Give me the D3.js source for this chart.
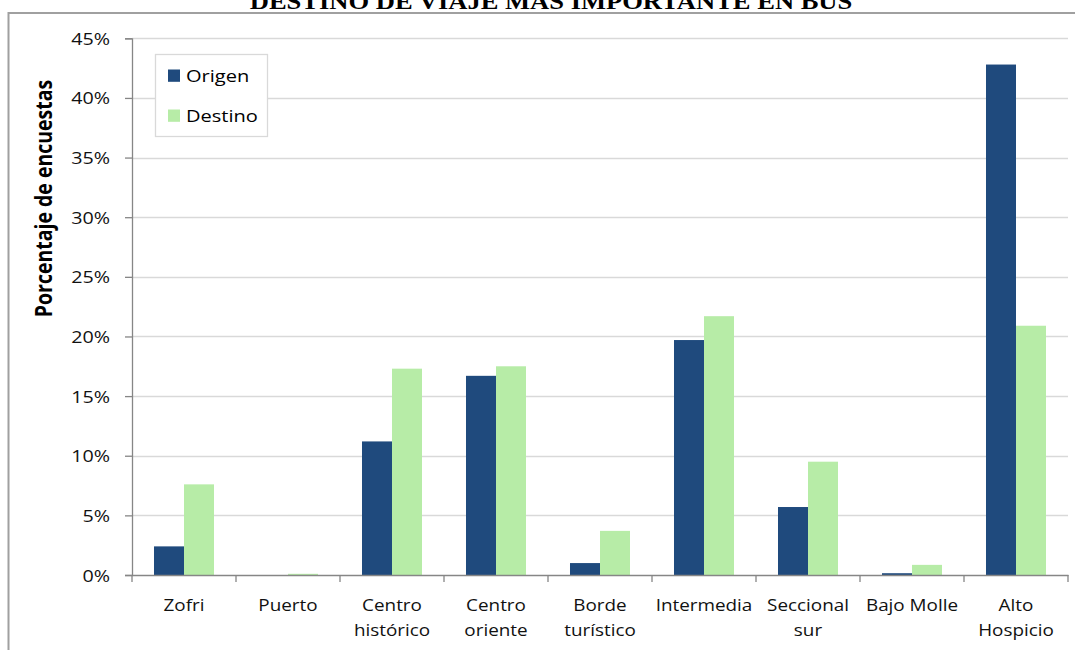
<!DOCTYPE html>
<html>
<head>
<meta charset="utf-8">
<script src="https://cdn.jsdelivr.net/npm/d3@7"></script>
<style>
  html, body { margin: 0; padding: 0; background: #fff; overflow: hidden; }
  svg { display: block; }
</style>
</head>
<body>
<svg id="chart" width="1075" height="650"></svg>
<script>
const title = "DESTINO DE VIAJE MÁS IMPORTANTE EN BUS";
const categories = ["Zofri", "Puerto", "Centro histórico", "Centro oriente", "Borde turístico", "Intermedia", "Seccional sur", "Bajo Molle", "Alto Hospicio"];
const categoryLines = [["Zofri"], ["Puerto"], ["Centro", "histórico"], ["Centro", "oriente"], ["Borde", "turístico"], ["Intermedia"], ["Seccional", "sur"], ["Bajo Molle"], ["Alto", "Hospicio"]];
const seriesNames = ["Origen", "Destino"];
const origen = [2.4, 0, 11.2, 16.7, 1.0, 19.7, 5.7, 0.15, 42.8];
const destino = [7.6, 0.1, 17.3, 17.5, 3.7, 21.7, 9.5, 0.85, 20.9];
const yTicks = [0, 5, 10, 15, 20, 25, 30, 35, 40, 45];
const yTickLabels = ["0%", "5%", "10%", "15%", "20%", "25%", "30%", "35%", "40%", "45%"];
const yTitle = "Porcentaje de encuestas";
const colors = ["#1f4a7d", "#b7eca7"];

const SX = 1.18; // horizontal stretch of the original picture
const svg = d3.select("#chart");
const plot = { left: 132, right: 1068, top: 38.3, bottom: 575 };

const x0 = d3.scaleBand().domain(categories).range([plot.left, plot.right]).padding(0);
const x1 = d3.scaleBand().domain(seriesNames).range([0, x0.bandwidth()]).paddingInner(0).paddingOuter(0.733);
const y = d3.scaleLinear().domain([0, 45]).range([plot.bottom, plot.top]);

function stext(g, x, yy, txt) {
  return g.append("text").attr("transform", `translate(${x},${yy}) scale(${SX},1)`).text(txt);
}

// outer border
svg.append("rect").attr("x", 8.5).attr("y", 13).attr("width", 1200).attr("height", 800)
  .attr("fill", "none").attr("stroke", "#a0a0a0").attr("stroke-width", 2);

// title
stext(svg, 551, 9, title)
  .attr("text-anchor", "middle")
  .attr("font-family", "'Liberation Serif', 'Times New Roman', serif")
  .attr("font-weight", "bold").attr("font-size", 22.5).attr("fill", "#000");

// gridlines
svg.append("g").selectAll("line").data(yTicks.filter(d => d > 0)).join("line")
  .attr("x1", plot.left).attr("x2", plot.right)
  .attr("y1", d => Math.round(y(d)) + 0.5).attr("y2", d => Math.round(y(d)) + 0.5)
  .attr("stroke", "#d9d9d9").attr("stroke-width", 1.3);

// bars
const data = categories.map((c, i) => ({ cat: c, vals: [origen[i], destino[i]] }));
const groups = svg.append("g").selectAll("g").data(data).join("g")
  .attr("transform", d => `translate(${x0(d.cat)},0)`);
groups.selectAll("rect").data(d => d.vals.map((v, j) => ({ key: seriesNames[j], v, j }))).join("rect")
  .attr("x", d => x1(d.key))
  .attr("width", x1.bandwidth())
  .attr("y", d => y(d.v))
  .attr("height", d => y(0) - y(d.v))
  .attr("fill", d => colors[d.j]);

// y axis
const yAxis = d3.axisLeft(y).tickValues(yTicks).tickSize(7).tickFormat((d, i) => yTickLabels[i]);
const gy = svg.append("g").attr("transform", `translate(${plot.left},0)`).call(yAxis);
gy.select(".domain").attr("stroke", "#868686").attr("stroke-width", 1.3);
gy.selectAll(".tick line").attr("stroke", "#868686").attr("stroke-width", 1.3);
gy.selectAll(".tick text").each(function () {
  const t = d3.select(this);
  t.attr("x", null).attr("transform", `translate(-22,0) scale(${SX},1)`)
    .attr("font-family", "'Open Sans', sans-serif").attr("font-size", 16.7).attr("fill", "#111")
    .attr("dy", "0.36em");
});

// x axis
const xAxis = d3.axisBottom(x0).tickSize(0).tickFormat("");
const gx = svg.append("g").attr("transform", `translate(0,${plot.bottom})`).call(xAxis);
gx.select(".domain").attr("stroke", "#868686").attr("stroke-width", 1.3);
gx.selectAll(".tick").remove();
const bounds = categories.map(c => x0(c)).concat([plot.right]);
gx.selectAll("line.bt").data(bounds).join("line").attr("class", "bt")
  .attr("x1", d => d).attr("x2", d => d).attr("y1", 0).attr("y2", 7)
  .attr("stroke", "#868686").attr("stroke-width", 1.3);

// category labels
const lab = svg.append("g").attr("font-family", "'Open Sans', sans-serif").attr("font-size", 16)
  .attr("fill", "#111").attr("text-anchor", "middle");
categories.forEach((c, i) => {
  const cx = x0(c) + x0.bandwidth() / 2;
  categoryLines[i].forEach((line, k) => {
    stext(lab, cx, 611 + k * 25, line);
  });
});

// y title
svg.append("text")
  .attr("transform", `translate(52,198.5) scale(${SX},1) rotate(-90)`)
  .attr("text-anchor", "middle")
  .attr("font-family", "'Open Sans', sans-serif").attr("font-weight", "bold").attr("font-size", 19.5)
  .attr("fill", "#000").text(yTitle);

// legend
const lg = svg.append("g");
lg.append("rect").attr("x", 155.5).attr("y", 54.5).attr("width", 112).attr("height", 82)
  .attr("fill", "#fff").attr("stroke", "#d9d9d9").attr("stroke-width", 1.3);
seriesNames.forEach((s, i) => {
  lg.append("rect").attr("x", 168).attr("y", 69.5 + i * 40).attr("width", 12).attr("height", 12.3).attr("fill", colors[i]);
  stext(lg, 186, 82 + i * 40, s)
    .attr("font-family", "'Open Sans', sans-serif").attr("font-size", 17).attr("fill", "#000");
});
</script>
</body>
</html>
